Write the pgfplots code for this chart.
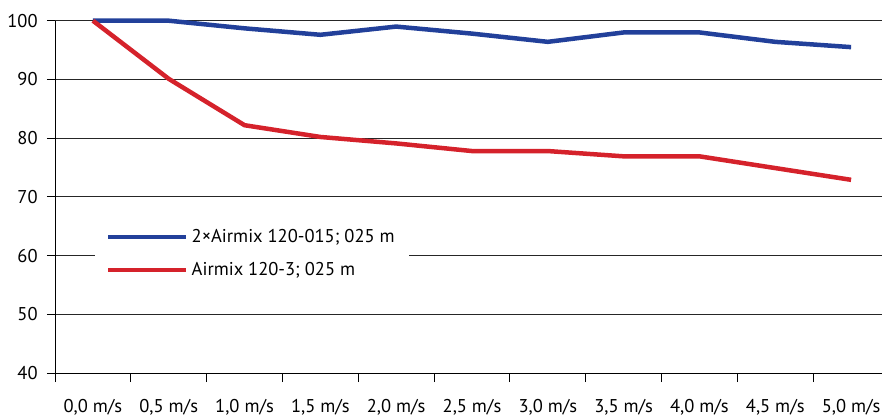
\documentclass[border=0pt]{standalone}
\usepackage{fontspec}
\setmainfont{PT Sans}
\usepackage{pgfplots}
\pgfplotsset{compat=1.18}
\definecolor{bl}{HTML}{22409A}
\definecolor{rd}{HTML}{D5222B}
\begin{document}
\fontsize{18.5bp}{21bp}\selectfont
\begin{tikzpicture}
\path[use as bounding box] (0,0) rectangle (882bp,416bp);
\begin{axis}[
  at={(55bp,43bp)}, anchor=south west,
  scale only axis, width=834bp, height=352.3bp,
  xmin=-0.5, xmax=10.5, ymin=40, ymax=100,
  axis lines*=left, axis line style={-, black, line width=1bp},
  clip=false,
  xtick={0,...,10},
  xticklabels={{0,0 m/s},{0,5 m/s},{1,0 m/s},{1,5 m/s},{2,0 m/s},{2,5 m/s},{3,0 m/s},{3,5 m/s},{4,0 m/s},{4,5 m/s},{5,0 m/s}},
  major x tick style={draw=none},
  minor xtick={-0.5,0.5,...,10.5},
  minor tick length=9bp, major tick length=8bp,
  tick align=outside,
  tick style={black, line width=1bp},
  ytick={40,50,...,100},
  ymajorgrids, major grid style={black!85, line width=1bp},
  xticklabel style={yshift=-12bp},
  yticklabel style={xshift=-3bp},
  /pgf/number format/assume math mode=true,
  tick label style={font=\fontsize{18.5bp}{21bp}\selectfont},
  legend style={at={(0.048,0.4258)}, anchor=north west, draw=none, fill=white,
    inner xsep=11bp, inner ysep=6bp,
    font=\fontsize{18.5bp}{21bp}\selectfont,
    row sep=17bp,
    nodes={inner ysep=0bp, inner xsep=3bp}},
  legend cell align=left,
  legend image code/.code={\draw[#1] (0bp,0bp) -- (78bp,0bp);},
]
\addplot[bl, line width=4.5bp] coordinates {(0,100) (1,100) (2,98.7) (3,97.6) (4,99) (5,97.8) (6,96.4) (7,98.0) (8,98.0) (9,96.4) (10,95.5)};
\addlegendentry{2×Airmix 120-015; 025 m}
\addplot[rd, line width=4.5bp] coordinates {(0,100) (1,90.1) (2,82.2) (3,80.2) (4,79.1) (5,77.8) (6,77.8) (7,76.9) (8,76.9) (9,74.9) (10,72.9)};
\addlegendentry{Airmix 120-3; 025 m}
\end{axis}
\end{tikzpicture}
\end{document}
